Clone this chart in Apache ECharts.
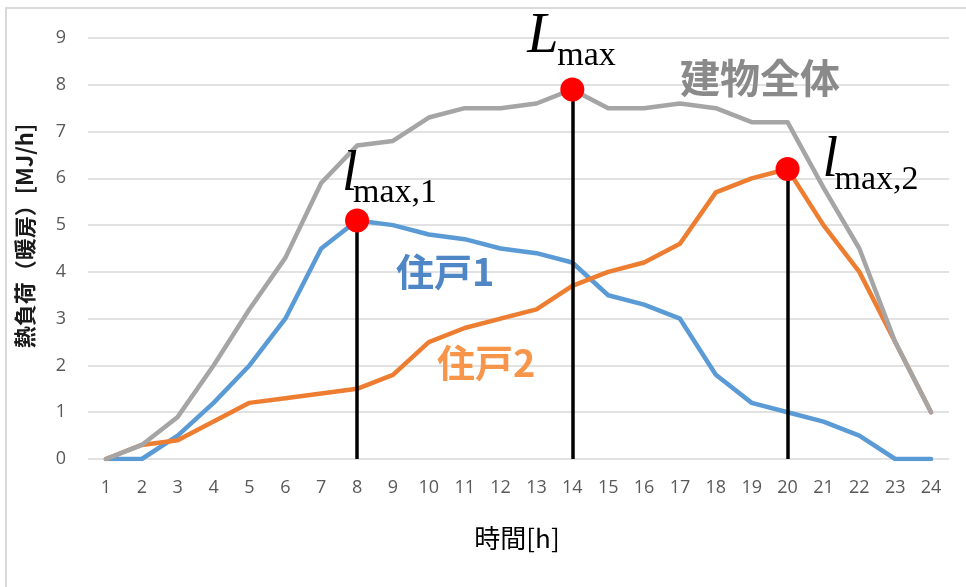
<!DOCTYPE html>
<html>
<head>
<meta charset="utf-8">
<script src="https://cdn.jsdelivr.net/npm/echarts@6/dist/echarts.min.js"></script>
<style>
  html, body { margin: 0; padding: 0; background: #ffffff; }
  #chart { width: 966px; height: 587px; }
</style>
</head>
<body>
<div id="chart"></div>
<script>
// Hourly heating load [MJ/h] for two dwellings and the whole building
const hours = ['1','2','3','4','5','6','7','8','9','10','11','12','13','14','15','16','17','18','19','20','21','22','23','24'];
const unit1 = [0, 0, 0.5, 1.2, 2.0, 3.0, 4.5, 5.1, 5.0, 4.8, 4.7, 4.5, 4.4, 4.2, 3.5, 3.3, 3.0, 1.8, 1.2, 1.0, 0.8, 0.5, 0, 0];
const unit2 = [0, 0.3, 0.4, 0.8, 1.2, 1.3, 1.4, 1.5, 1.8, 2.5, 2.8, 3.0, 3.2, 3.7, 4.0, 4.2, 4.6, 5.7, 6.0, 6.2, 5.0, 4.0, 2.5, 1.0];
const building = [0, 0.3, 0.9, 2.0, 3.2, 4.3, 5.9, 6.7, 6.8, 7.3, 7.5, 7.5, 7.6, 7.9, 7.5, 7.5, 7.6, 7.5, 7.2, 7.2, 5.8, 4.5, 2.5, 1.0];
const yMin = 0, yMax = 9, yStep = 1;

const seriesNames = ['住戸1', '住戸2', '建物全体'];
const seriesColors = ['#5b9bd5', '#ed7d31', '#a5a5a5'];

// index and value of the largest hourly load in a series
function peakOf(values) {
  let idx = 0;
  values.forEach((v, i) => { if (v > values[idx]) idx = i; });
  return { i: idx, v: values[idx] };
}
const peak1 = peakOf(unit1);
const peak2 = peakOf(unit2);
const peakAll = peakOf(building);
const peaks = [peak1, peakAll, peak2];

const chart = echarts.init(document.getElementById('chart'), null, { renderer: 'canvas' });

const lineSeries = [unit1, unit2, building].map((vals, k) => ({
  name: seriesNames[k],
  type: 'line',
  data: vals,
  showSymbol: false,
  symbol: 'none',
  lineStyle: { color: seriesColors[k], width: 4.5, cap: 'round', join: 'round' },
  z: 2 + k
}));

// vertical drop lines from each peak down to zero
lineSeries[2].markLine = {
  silent: true,
  symbol: ['none', 'none'],
  label: { show: false },
  lineStyle: { color: '#000000', width: 3.5, type: 'solid', opacity: 1 },
  z: 6,
  data: peaks.map(p => [{ coord: [p.i, yMin] }, { coord: [p.i, p.v] }])
};

chart.setOption({
  animation: false,
  backgroundColor: '#ffffff',
  grid: { left: 88, right: 17, top: 38, bottom: 128, containLabel: false },
  xAxis: {
    type: 'category',
    data: hours,
    boundaryGap: true,
    axisLine: { show: false },
    axisTick: { show: false },
    axisLabel: { color: '#595959', fontSize: 18, fontFamily: 'Open Sans', margin: 20 }
  },
  yAxis: {
    type: 'value',
    min: yMin, max: yMax, interval: yStep,
    axisLine: { show: false },
    axisTick: { show: false },
    splitLine: { lineStyle: { color: '#d9d9d9', width: 1.5 } },
    axisLabel: { color: '#595959', fontSize: 18, fontFamily: 'Open Sans', margin: 22 }
  },
  series: lineSeries.concat([{
    name: 'peak',
    type: 'scatter',
    data: peaks.map(p => [p.i, p.v]),
    symbol: 'circle',
    symbolSize: 24,
    itemStyle: { color: '#ff0000', opacity: 1 },
    z: 10,
    silent: true
  }])
});

// annotation texts placed relative to the peak markers
const px = p => chart.convertToPixel({ seriesIndex: 3 }, [p.i, p.v]);
const d1 = px(peak1), dA = px(peakAll), d2 = px(peak2);

const serif = 'Liberation Serif';
function subLabel(mainText, subText, mx, mBottom, sx, sBottom) {
  return [
    { type: 'text', x: mx, y: mBottom, z: 20,
      style: { text: mainText, font: 'italic 56px "' + serif + '"', fill: '#000', align: 'left', verticalAlign: 'bottom' } },
    { type: 'text', x: sx, y: sBottom, z: 20,
      style: { text: subText, font: '34px "' + serif + '"', fill: '#000', align: 'left', verticalAlign: 'bottom' } }
  ];
}

const cjk = '"Noto Sans CJK JP"';
const graphics = [
  { type: 'rect', z: -10, silent: true, shape: { x: 6, y: 8, width: 1200, height: 1200 },
    style: { fill: 'none', stroke: '#d9d9d9', lineWidth: 2 } },
  { type: 'text', x: 25, y: 236, rotation: Math.PI / 2, z: 20,
    style: { text: '熱負荷（暖房）[MJ/h]', font: 'bold 22px ' + cjk, fill: '#1a1a1a', align: 'center', verticalAlign: 'middle' } },
  { type: 'text', x: 517, y: 538, z: 20,
    style: { text: '時間[h]', font: '26px ' + cjk, fill: '#000000', align: 'center', verticalAlign: 'middle' } },
  { type: 'text', x: 680, y: 78, z: 20,
    style: { text: '建物全体', font: 'bold 40px ' + cjk, fill: '#8a8a8a', align: 'left', verticalAlign: 'middle' } },
  { type: 'text', x: 396, y: 272, z: 20,
    style: { text: '住戸1', font: 'bold 38px ' + cjk, fill: '#4f86c6', align: 'left', verticalAlign: 'middle' } },
  { type: 'text', x: 437, y: 363, z: 20,
    style: { text: '住戸2', font: 'bold 38px ' + cjk, fill: '#f7964a', align: 'left', verticalAlign: 'middle' } }
]
  .concat(subLabel('L', 'max', dA[0] - 45, dA[1] - 24, dA[0] - 15, dA[1] - 16))
  .concat(subLabel('l', 'max,1', d1[0] - 15, d1[1] - 17, d1[0] - 4, d1[1] - 10))
  .concat(subLabel('l', 'max,2', d2[0] + 35, d2[1] + 20, d2[0] + 47, d2[1] + 28));

chart.setOption({ graphic: graphics });
</script>
</body>
</html>
